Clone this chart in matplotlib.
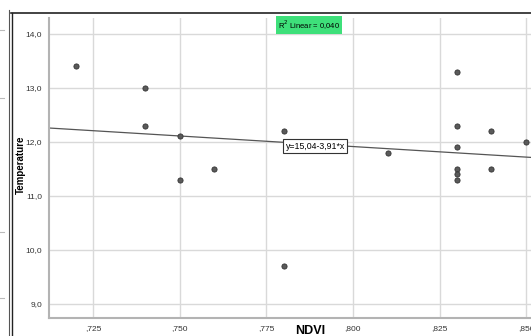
import matplotlib
matplotlib.use("Agg")
import matplotlib.pyplot as plt
from matplotlib.lines import Line2D
import numpy as np

plt.rcParams['font.family'] = ['Liberation Sans', 'DejaVu Sans']

# NDVI vs temperature
ndvi = [0.720, 0.740, 0.740, 0.750, 0.750, 0.760, 0.780, 0.780, 0.810,
        0.830, 0.830, 0.830, 0.830, 0.830, 0.830, 0.840, 0.840, 0.850]
temp = [13.4, 13.0, 12.3, 12.1, 11.3, 11.5, 12.2, 9.7, 11.8,
        13.3, 12.3, 11.9, 11.5, 11.4, 11.3, 12.2, 11.5, 12.0]

# fit line as printed on the chart
intercept = 15.04
slope = -3.91
r2_text = "R$^2$ Linear = 0,040"
eq_text = "y=15,04-3,91*x"

xticks = [0.725, 0.750, 0.775, 0.800, 0.825, 0.850]
xtick_labels = [",725", ",750", ",775", ",800", ",825", ",850"]
yticks = [9.0, 10.0, 11.0, 12.0, 13.0, 14.0]
ytick_labels = ["9,0", "10,0", "11,0", "12,0", "13,0", "14,0"]

W, H = 531, 336
fig = plt.figure(figsize=(W / 100, H / 100), dpi=100)
fig.patch.set_facecolor("white")

# axes placed in pixel terms
left, right, top, bottom = 49, 531, 18, 318
ax = fig.add_axes([left / W, 1 - bottom / H, (right - left) / W, (bottom - top) / H])

xmin, xmax = 0.7123, 0.8514
ax.set_xlim(xmin, xmax)
ax.set_ylim(8.74, 14.29)

ax.grid(True, color="#d9d9d9", linewidth=1.0)
ax.set_axisbelow(True)
for s in ["top", "right"]:
    ax.spines[s].set_visible(False)
for s in ["left", "bottom"]:
    ax.spines[s].set_color("#b3b3b3")
    ax.spines[s].set_linewidth(1.5)

ax.set_xticks(xticks)
ax.set_xticklabels(xtick_labels)
ax.set_yticks(yticks)
ax.set_yticklabels(ytick_labels)
ax.tick_params(length=0, labelsize=6, colors="#333333", pad=5)

# fit line
xs = np.array([xmin, xmax])
ax.plot(xs, intercept + slope * xs, color="#555555", linewidth=0.9, zorder=2)

ax.scatter(ndvi, temp, s=14, color="#5a5a5a", edgecolors="#333333",
           linewidths=0.6, zorder=3)

ax.text(0.7874, 14.16, r2_text, fontsize=5.5, ha="center", va="center",
        bbox=dict(boxstyle="square,pad=0.25", facecolor="#3ee07a", edgecolor="none"))
ax.text(0.7891, 11.92, eq_text, fontsize=6.3, ha="center", va="center", zorder=4,
        bbox=dict(boxstyle="square,pad=0.3", facecolor="white", edgecolor="#333333",
                  linewidth=0.8))

fig.text(21 / W, 1 - 165 / H, "Temperature", rotation=90, fontsize=7,
         fontweight="bold", ha="center", va="center")
fig.text(310 / W, 1 - 331 / H, "NDVI", fontsize=9, fontweight="bold",
         ha="center", va="center")

# outer frame of the chart window
fig.add_artist(Line2D([11 / W, 1], [1 - 13 / H, 1 - 13 / H], color="#222222", linewidth=1.2))
fig.add_artist(Line2D([11.5 / W, 11.5 / W], [0, 1 - 13 / H], color="#222222", linewidth=1.0))
fig.add_artist(Line2D([9 / W, 9 / W], [0, 1 - 10 / H], color="#555555", linewidth=0.8))
# neighbouring panel edge on the far left
for yy in [30, 98, 232, 298]:
    fig.add_artist(Line2D([0, 4 / W], [1 - yy / H, 1 - yy / H], color="#bbbbbb", linewidth=0.8))

fig.savefig("out.png", dpi=100, facecolor="white")
